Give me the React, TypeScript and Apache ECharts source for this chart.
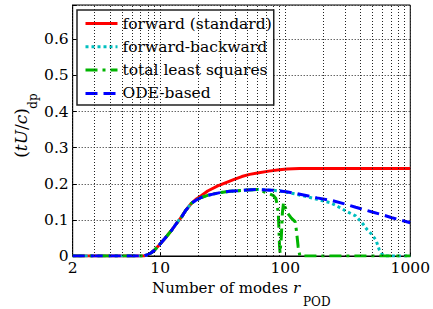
import React, { useEffect, useRef } from "react";
import * as echarts from "echarts";

const seriesNames = ["forward (standard)", "forward-backward", "total least squares", "ODE-based"];

const forwardR = [2, 3, 4, 5, 6, 7, 7.4, 8, 8.5, 9, 10, 11, 12.4, 13.5, 14.9, 16, 17.8, 19.5, 21.3, 24, 28.9, 34, 39.1, 45, 52, 60, 74, 90, 103, 130, 200, 300, 500, 1000];
const forwardV = [0, 0, 0, 0, 0, 0, 0, 0.004, 0.009, 0.016, 0.033, 0.05, 0.072, 0.09, 0.109, 0.126, 0.146, 0.158, 0.167, 0.18, 0.194, 0.204, 0.212, 0.22, 0.226, 0.23, 0.235, 0.239, 0.241, 0.242, 0.242, 0.242, 0.242, 0.242];

const odeR = [2, 3, 4, 5, 6, 7, 7.4, 8, 8.5, 9, 10, 11, 12.4, 13.5, 14.9, 16, 17.8, 19.5, 21.3, 24, 27, 30.7, 36, 42, 50, 60, 70, 80, 91, 105, 123, 150, 180, 240, 300, 366, 430, 496, 600, 712, 850, 1000];
const odeV = [0, 0, 0, 0, 0, 0, 0, 0.004, 0.009, 0.016, 0.033, 0.05, 0.072, 0.09, 0.109, 0.126, 0.146, 0.155, 0.162, 0.168, 0.172, 0.176, 0.179, 0.181, 0.183, 0.184, 0.183, 0.182, 0.18, 0.177, 0.173, 0.167, 0.161, 0.153, 0.144, 0.135, 0.128, 0.122, 0.114, 0.106, 0.099, 0.092];

const fbR = [2, 3, 4, 5, 6, 7, 7.4, 8, 8.5, 9, 10, 11, 12.4, 13.5, 14.9, 16, 17.8, 19.5, 21.3, 24, 27, 30.7, 36, 42, 50, 60, 70, 80, 91, 105, 123, 150, 180, 232, 270, 315, 366, 400, 420, 440, 455, 489, 532, 564, 600, 620, 800, 1000];
const fbV = [0, 0, 0, 0, 0, 0, 0, 0.004, 0.009, 0.016, 0.033, 0.05, 0.072, 0.09, 0.109, 0.126, 0.146, 0.155, 0.162, 0.168, 0.172, 0.176, 0.179, 0.181, 0.183, 0.184, 0.183, 0.182, 0.18, 0.176, 0.171, 0.164, 0.157, 0.147, 0.135, 0.122, 0.111, 0.097, 0.088, 0.078, 0.072, 0.061, 0.044, 0.018, 0.004, 0, 0, 0];

const tlsR = [2, 3, 4, 5, 6, 7, 7.4, 8, 8.5, 9, 10, 11, 12.4, 13.5, 14.9, 16, 17.8, 19.5, 21.3, 24, 27, 30.7, 36, 42, 50, 60, 70, 80, 84, 86, 88, 89, 90, 91, 93, 95, 97, 100, 104, 112, 120, 123, 127, 131, 200, 400, 1000];
const tlsV = [0, 0, 0, 0, 0, 0, 0, 0.004, 0.009, 0.016, 0.033, 0.05, 0.072, 0.09, 0.109, 0.126, 0.146, 0.155, 0.162, 0.168, 0.172, 0.176, 0.179, 0.181, 0.183, 0.184, 0.176, 0.168, 0.16, 0.145, 0.12, 0.08, 0.03, 0.008, 0.05, 0.12, 0.148, 0.135, 0.12, 0.105, 0.095, 0.07, 0.025, 0, 0, 0, 0];

const yTicks = [0, 0.1, 0.2, 0.3, 0.4, 0.5, 0.6];
const xTickLabels = [2, 10, 100, 1000];
const xGridValues = [2, 3, 4, 5, 6, 7, 8, 9, 10, 20, 30, 40, 50, 60, 70, 80, 90, 100, 200, 300, 400, 500, 600, 700, 800, 900, 1000];

const FONT = "DejaVu Serif";

function pairs(r: number[], v: number[]) {
  return r.map((x, i) => [x, v[i]]);
}

export default function App() {
  const ref = useRef<HTMLDivElement>(null);
  useEffect(() => {
    if (!ref.current) return;
    const chart = echarts.init(ref.current, undefined, { renderer: "svg" });
    const dotted = { type: [1, 2] as any, color: "#222", width: 1 };
    chart.setOption({
      animation: false,
      backgroundColor: "#fff",
      textStyle: { fontFamily: FONT },
      grid: {
        left: 72.7,
        right: 17,
        top: 5,
        bottom: 53,
        show: true,
        borderColor: "#000",
        borderWidth: 1,
        backgroundColor: "transparent",
      },
      xAxis: {
        type: "log",
        logBase: 10,
        min: 2,
        max: 1000,
        axisLine: { show: true, lineStyle: { color: "#000", width: 1 } },
        axisTick: { show: true, inside: true, length: 4, lineStyle: { color: "#000" } },
        splitLine: { show: false },
        axisLabel: {
          color: "#000",
          fontFamily: FONT,
          fontSize: 15.5,
          margin: 4,
          formatter: (v: number) => {
            const m = xTickLabels.find((t) => Math.abs(t - v) / t < 1e-6);
            return m !== undefined ? String(m) : "";
          },
        },
      },
      yAxis: {
        type: "value",
        min: 0,
        max: 0.695,
        interval: 0.1,
        axisLine: { show: true, lineStyle: { color: "#000", width: 1 } },
        axisTick: { show: true, inside: true, length: 4, lineStyle: { color: "#000" } },
        splitLine: { show: true, lineStyle: dotted },
        axisLabel: {
          color: "#000",
          fontFamily: FONT,
          fontSize: 15.5,
          margin: 4,
          formatter: (v: number) => {
            const m = yTicks.find((t) => Math.abs(t - v) < 1e-6);
            if (m === undefined) return "";
            return m === 0 ? "0" : m.toFixed(1);
          },
        },
      },
      legend: {
        data: seriesNames,
        orient: "vertical",
        left: 77,
        top: 10,
        padding: [4, 2, 2, 7],
        itemWidth: 32,
        itemHeight: 14,
        itemGap: 4.3,
        backgroundColor: "#fff",
        borderColor: "#222",
        borderWidth: 1.5,
        lineStyle: { width: 3 },
        itemStyle: { opacity: 0, borderWidth: 0 },
        textStyle: { color: "#000", fontFamily: FONT, fontSize: 15.5, lineHeight: 19 },
      },
      graphic: [
        {
          type: "text",
          x: 21,
          y: 133,
          rotation: Math.PI / 2,
          style: {
            text: "{n|(}{i|tU}{n|/}{i|c}{n|)}",
            align: "center",
            verticalAlign: "middle",
            fill: "#000",
            fontFamily: FONT,
            fontSize: 17,
            rich: {
              n: { fontFamily: FONT, fontSize: 17, fontStyle: "normal", fill: "#000" },
              i: { fontFamily: FONT, fontSize: 17, fontStyle: "italic", fill: "#000" },
            },
          },
        },
        {
          type: "text",
          x: 33,
          y: 101,
          rotation: Math.PI / 2,
          style: {
            text: "dp",
            align: "center",
            verticalAlign: "middle",
            fill: "#000",
            fontFamily: FONT,
            fontSize: 12,
          },
        },
        {
          type: "text",
          x: 152,
          y: 288,
          style: {
            text: "{n|Number of modes }{i|r}",
            align: "left",
            verticalAlign: "middle",
            fill: "#000",
            fontFamily: FONT,
            fontSize: 15,
            rich: {
              n: { fontFamily: FONT, fontSize: 15, fontStyle: "normal", fill: "#000" },
              i: { fontFamily: FONT, fontSize: 15, fontStyle: "italic", fill: "#000" },
            },
          },
        },
        {
          type: "text",
          x: 303,
          y: 302,
          style: {
            text: "POD",
            align: "left",
            verticalAlign: "middle",
            fill: "#000",
            fontFamily: FONT,
            fontSize: 12,
          },
        },
      ],
      series: [
        {
          name: "grid",
          type: "line",
          data: [],
          silent: true,
          markLine: {
            silent: true,
            symbol: "none",
            label: { show: false },
            lineStyle: dotted,
            data: xGridValues.map((v) => ({ xAxis: v })),
          },
        },
        {
          name: seriesNames[0],
          type: "line",
          data: pairs(forwardR, forwardV),
          symbol: "none",
          color: "#ff0000",
          lineStyle: { color: "#ff0000", width: 3, type: "solid" },
        },
        {
          name: seriesNames[1],
          type: "line",
          data: pairs(fbR, fbV),
          symbol: "none",
          color: "#00bfbf",
          lineStyle: { color: "#00bfbf", width: 3, type: [3, 3] },
        },
        {
          name: seriesNames[2],
          type: "line",
          data: pairs(tlsR, tlsV),
          symbol: "none",
          color: "#00b400",
          lineStyle: { color: "#00b400", width: 3, type: [12, 5, 3, 5] },
        },
        {
          name: seriesNames[3],
          type: "line",
          data: pairs(odeR, odeV),
          symbol: "none",
          color: "#0000ff",
          lineStyle: { color: "#0000ff", width: 3, type: [12, 6] },
        },
      ],
    });
    return () => chart.dispose();
  }, []);
  return <div ref={ref} style={{ width: 433, height: 309, position: "absolute", left: 0, top: 0 }} />;
}
